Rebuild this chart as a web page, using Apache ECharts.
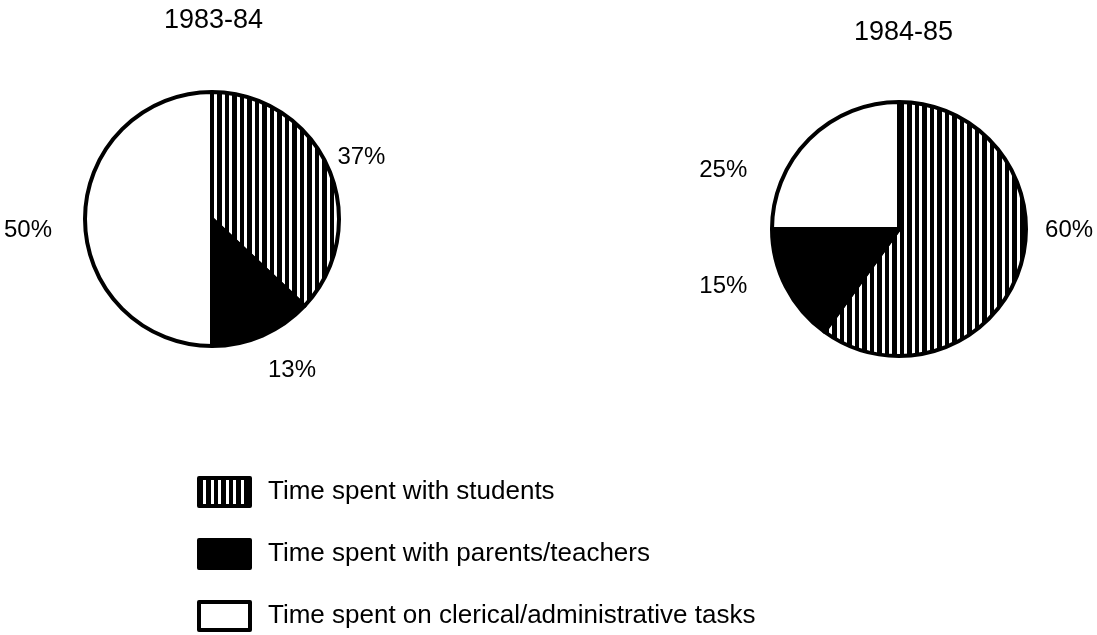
<!DOCTYPE html>
<html>
<head>
<meta charset="utf-8">
<script src="https://cdn.jsdelivr.net/npm/echarts@6/dist/echarts.min.js"></script>
<style>
html,body{margin:0;padding:0;background:#fff;}
#chart{width:1097px;height:635px;}
</style>
</head>
<body>
<div id="chart"></div>
<script>
const categories = ['Time spent with students', 'Time spent with parents/teachers', 'Time spent on clerical/administrative tasks'];
const years = ['1983-84', '1984-85'];
const values1983 = [37, 13, 50];
const values1984 = [60, 15, 25];

// label nudges (dx, dy) per series / slice
const labelNudge = [
  [[-9, -6], [-5, 22], [-14, 11]],
  [[7, -42], [-21, -7], [-47, 41]]
];

const pc = document.createElement('canvas');
pc.width = 15; pc.height = 8;
const ctx = pc.getContext('2d');
ctx.fillStyle = '#000'; ctx.fillRect(0, 0, 15, 8);
ctx.fillStyle = '#fff'; ctx.fillRect(4, 0, 3, 8); ctx.fillRect(12, 0, 3, 8);
const stripe = { image: pc, repeat: 'repeat' };
const fills = [stripe, '#000', '#fff'];

const FONT = 'Liberation Sans';

function mk(vals) {
  return vals.map((v, i) => ({ name: categories[i], value: v, itemStyle: { color: fills[i] } }));
}

function pieSeries(center, r, vals) {
  return {
    type: 'pie', center: center, radius: r, startAngle: 90, clockwise: true,
    itemStyle: { borderColor: '#000', borderWidth: 4 },
    label: { show: true, position: 'outside', formatter: '{c}%', fontFamily: FONT, fontSize: 24, color: '#000', overflow: 'none', edgeDistance: 0 },
    labelLine: { show: false, length: 14, length2: 0 },
    labelLayout: function (p) {
      const o = labelNudge[p.seriesIndex][p.dataIndex];
      return { dx: o[0], dy: o[1] };
    },
    emphasis: { disabled: true },
    data: mk(vals)
  };
}

const chart = echarts.init(document.getElementById('chart'));
chart.setOption({
  animation: false,
  backgroundColor: '#fff',
  title: [
    { text: years[0], left: 164, top: 7, padding: 0, textStyle: { fontFamily: FONT, fontSize: 27, fontWeight: 'normal', color: '#000' } },
    { text: years[1], left: 854, top: 19, padding: 0, textStyle: { fontFamily: FONT, fontSize: 27, fontWeight: 'normal', color: '#000' } }
  ],
  legend: {
    orient: 'vertical',
    left: 197,
    top: 476,
    height: 200,
    padding: 0,
    itemWidth: 51,
    itemHeight: 28,
    itemGap: 30,
    icon: 'rect',
    data: categories,
    itemStyle: { borderColor: '#000', borderWidth: 4 },
    textStyle: { fontFamily: FONT, fontSize: 26, color: '#000', lineHeight: 28, padding: [0, 0, 0, 13] },
    selectedMode: false
  },
  series: [
    pieSeries([212, 219], 127, values1983),
    pieSeries([899, 229], 127, values1984)
  ]
});
</script>
</body>
</html>
